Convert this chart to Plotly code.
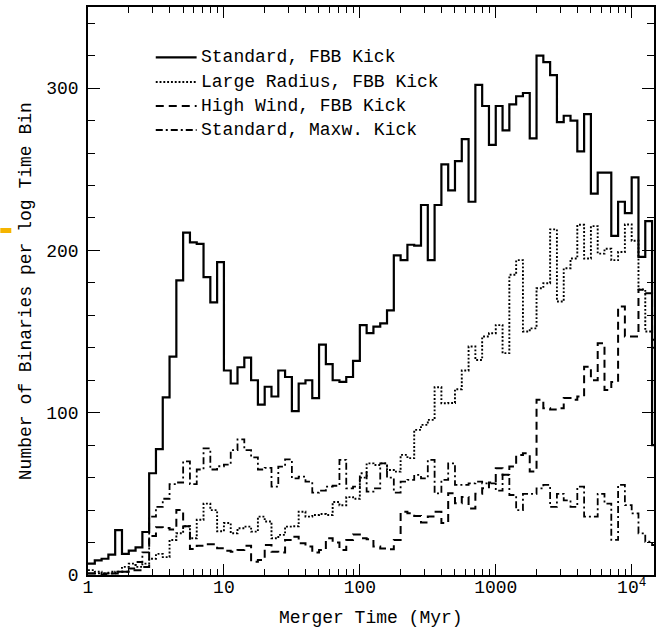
import numpy as np
import plotly.graph_objects as go

# Merger-time histograms, 20 bins per decade starting at 1 Myr
BINS_PER_DEX = 20
N_BINS = 84

standard_fbb = [
    7, 9, 10, 12.5, 27.7, 13, 15, 17, 26.5, 62.7,
    77.6, 109.5, 134.6, 181.5, 211, 205, 204, 183.5, 168, 192.8,
    126, 118, 128, 134, 120, 105, 116, 110, 126, 122,
    101, 118, 120, 109, 142, 130, 120, 119, 122, 132,
    154, 149, 153, 155, 163, 197, 194, 203.5, 203, 228,
    194, 228, 253, 237, 255, 268.6, 230, 302, 289, 265,
    289, 274, 290, 295, 297, 269, 320, 316, 308, 279,
    283, 280, 261, 284, 235, 248, 248, 209, 230, 223,
    245, 196, 218, 80,
]

large_radius_fbb = [
    3, 2, 1, 1, 2, 5, 7, 5, 7, 10,
    13, 11, 21.6, 25.7, 30, 22.6, 34, 44, 40, 27,
    32, 25.7, 28.8, 29.8, 26.7, 36, 33, 22.6, 24.7, 29.8,
    30, 39, 36, 37, 37.6, 37, 45, 43, 48, 47,
    60, 68.8, 67.8, 68.8, 64.7, 63.7, 74, 72, 89.4, 92.5,
    95.6, 115.7, 105.8, 106, 114.5, 126, 140.8, 132.5, 147, 149,
    154, 136.7, 185, 194, 150, 152, 176.7, 179.8, 213, 168.5,
    189, 195, 215.8, 195, 215, 198, 201, 194, 199, 216,
    206, 176, 150, 140,
]

high_wind_fbb = [
    1, 1, 0, 1, 1, 2, 3, 3, 5, 24,
    29.5, 29, 28, 40, 30, 16, 18, 19, 19, 16.5,
    15, 14.4, 15.4, 18, 8.2, 9.2, 18.5, 14.4, 13.8, 21.6,
    23.6, 19.5, 17.5, 13.8, 15.4, 22.6, 20, 15.4, 21.6, 25,
    22.6, 22, 17.5, 16.4, 15.8, 21.6, 39, 38, 36.4, 32.3,
    36, 39, 32, 50.3, 44.2, 48, 41, 50, 53.4, 57,
    65.8, 61.7, 66.8, 74, 75, 63.7, 108, 102.7, 102, 102.7,
    109, 108, 110, 128.4, 120, 142.8, 114, 119, 165.4, 147,
    147, 175.7, 173.6, 145,
]

standard_maxw = [
    1, 1, 1, 2, 2, 2, 4, 8, 14, 36,
    42, 47, 56, 57, 70, 56, 65, 78, 65, 67,
    68, 77, 83.6, 77, 72.5, 65, 66, 54.5, 66.8, 71.3,
    59.6, 60.6, 57.5, 50.8, 52, 54.5, 55, 71, 53.4, 54.5,
    62.7, 51.4, 53.4, 68.8, 60, 50.8, 57.5, 58.6, 61.7, 59.6,
    70.9, 50.3, 58.6, 68.8, 55.5, 55.5, 56.5, 57.5, 56.5, 56.5,
    52, 61.7, 49.3, 40, 50, 50, 53.4, 55.5, 42, 50,
    46, 42, 54.5, 36, 36, 50, 44, 21.6, 55.5, 43,
    38, 25.7, 20.5, 18.5,
]

series_names = [
    "Standard, FBB Kick",
    "Large Radius, FBB Kick",
    "High Wind, FBB Kick",
    "Standard, Maxw. Kick",
]

x_tick_vals = [1, 10, 100, 1000, 10000]
x_tick_text = ["1", "10", "100", "1000", "10<sup>4</sup>"]
y_tick_vals = [0, 100, 200, 300]

edges = 10 ** (np.arange(N_BINS + 1) / BINS_PER_DEX)

FONT = "Liberation Mono"
W, H = 657, 633
ML, MR, MT, MB = 88, 1, 7, 58
PW, PH = W - ML - MR, H - MT - MB


def px_x(px):
    return (px - ML) / PW


def px_y(py):
    return (H - MB - py) / PH


def step_xy(vals):
    x = list(edges[: len(vals) + 1])
    y = list(vals) + [vals[-1]]
    return x, y


styles = [
    dict(width=2.2, dash="solid"),
    dict(width=1.9, dash="1.9px,1.9px"),
    dict(width=2.0, dash="8px,5px"),
    dict(width=1.8, dash="7px,3px,2px,3px"),
]

fig = go.Figure()
for vals, name, st in zip(
    [standard_fbb, large_radius_fbb, high_wind_fbb, standard_maxw], series_names, styles
):
    x, y = step_xy(vals)
    fig.add_trace(
        go.Scatter(
            x=x, y=y, mode="lines", name=name, line_shape="hv",
            line=dict(color="black", width=st["width"], dash=st["dash"]),
            showlegend=False, hoverinfo="skip",
        )
    )

# hand-placed key in the upper left of the frame
shapes = []
annotations = []
row_y = [57.3, 82, 106, 130]
for name, st, ry in zip(series_names, styles, row_y):
    shapes.append(dict(
        type="line", xref="paper", yref="paper",
        x0=px_x(156), x1=px_x(197), y0=px_y(ry), y1=px_y(ry),
        line=dict(color="black", width=st["width"], dash=st["dash"]),
    ))
    annotations.append(dict(
        xref="paper", yref="paper", x=px_x(199), y=px_y(ry),
        xanchor="left", yanchor="middle", text=name, showarrow=False,
        font=dict(family=FONT, size=18, color="black"),
    ))

# small orange tab at the left edge
shapes.append(dict(
    type="rect", xref="paper", yref="paper",
    x0=px_x(0), x1=px_x(11), y0=px_y(233), y1=px_y(228),
    line=dict(width=0), fillcolor="#f5b400",
))

annotations.append(dict(
    xref="paper", yref="paper", x=px_x(372), y=px_y(618),
    xanchor="center", yanchor="middle", text="Merger Time (Myr)", showarrow=False,
    font=dict(family=FONT, size=18, color="black"),
))
annotations.append(dict(
    xref="paper", yref="paper", x=px_x(26), y=px_y(291),
    xanchor="center", yanchor="middle", text="Number of Binaries per log Time Bin",
    textangle=-90, showarrow=False,
    font=dict(family=FONT, size=18, color="black"),
))

x_minor = [m * 10 ** d for d in range(0, 5) for m in range(2, 10)]

fig.update_layout(
    width=W, height=H,
    margin=dict(l=ML, r=MR, t=MT, b=MB, pad=0),
    paper_bgcolor="white", plot_bgcolor="white",
    showlegend=False,
    shapes=shapes, annotations=annotations,
    font=dict(family=FONT, size=18, color="black"),
    xaxis=dict(
        type="log", range=[0, np.log10(edges[0]) + (PW / 136.4)],
        tickmode="array", tickvals=x_tick_vals, ticktext=x_tick_text,
        ticks="inside", ticklen=11, tickwidth=1.4, tickcolor="black",
        minor=dict(tickmode="array", tickvals=x_minor, ticks="inside",
                   ticklen=6, tickwidth=1.2, tickcolor="black", showgrid=False),
        showline=True, linecolor="black", linewidth=1.6, mirror="allticks",
        showgrid=False, zeroline=False,
        tickfont=dict(family=FONT, size=18, color="black"),
        ticklabelstandoff=-5,
    ),
    yaxis=dict(
        range=[0, 350],
        tickmode="array", tickvals=y_tick_vals,
        ticks="inside", ticklen=12, tickwidth=1.4, tickcolor="black",
        minor=dict(dtick=20, ticks="inside", ticklen=7, tickwidth=1.2,
                   tickcolor="black", showgrid=False),
        showline=True, linecolor="black", linewidth=1.6, mirror="allticks",
        showgrid=False, zeroline=False,
        tickfont=dict(family=FONT, size=18, color="black"),
        ticklabelstandoff=4,
    ),
)

fig.write_html("out.html")
